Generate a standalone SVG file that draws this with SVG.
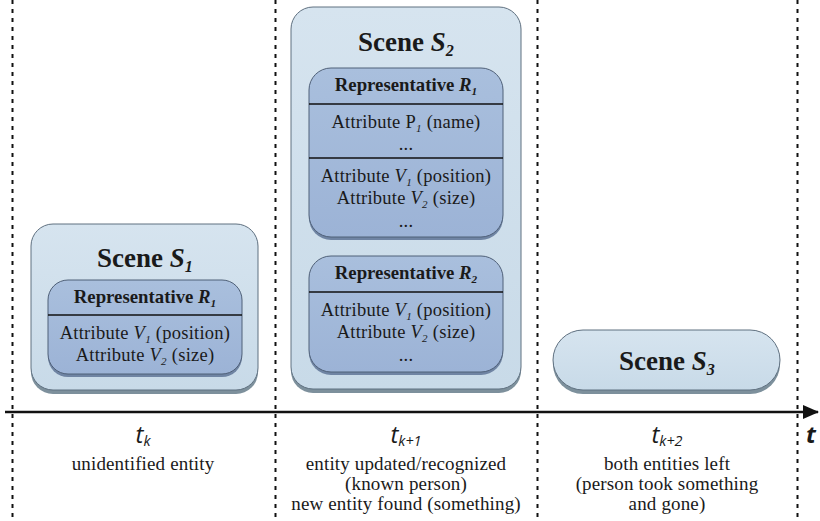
<svg xmlns="http://www.w3.org/2000/svg" width="820" height="521" viewBox="0 0 820 521">
<defs>
<linearGradient id="gScene" x1="0" y1="0" x2="0" y2="1">
<stop offset="0" stop-color="#d6e4ef"/>
<stop offset="1" stop-color="#c8dae8"/>
</linearGradient>
<linearGradient id="gRep" x1="0" y1="0" x2="0" y2="1">
<stop offset="0" stop-color="#a9bfdd"/>
<stop offset="1" stop-color="#9cb3d6"/>
</linearGradient>
<marker id="arr" markerWidth="16" markerHeight="14" refX="15" refY="7" orient="auto" markerUnits="userSpaceOnUse">
<path d="M0,0 L16,7 L0,14 Z" fill="#111"/>
</marker>
</defs>
<style>
.shadow{fill:#7d909c}
.scene{fill:url(#gScene);stroke:#5f7080;stroke-width:1}
.repsh{fill:#6f84a3}
.rep{fill:url(#gRep);stroke:#4f6078;stroke-width:1}
.sep{stroke:#111;stroke-width:1.3}
.dot{stroke:#111;stroke-width:2;stroke-dasharray:4,5}
.title{font-family:"Liberation Serif","DejaVu Serif",serif;font-weight:bold;font-size:27px;fill:#1a1a1a;text-anchor:middle}
.hd{font-family:"Liberation Serif","DejaVu Serif",serif;font-weight:bold;font-size:18.8px;fill:#1a1a1a;text-anchor:middle}
.tx{font-family:"Liberation Serif","DejaVu Serif",serif;font-size:18.5px;letter-spacing:0.25px;fill:#1a1a1a;text-anchor:middle}
.lb{font-family:"Liberation Serif","DejaVu Serif",serif;font-size:19px;letter-spacing:0.15px;fill:#1a1a1a;text-anchor:middle}
.tk{font-family:"Open Sans","DejaVu Sans",sans-serif;font-style:italic;font-size:24px;fill:#1a1a1a;text-anchor:middle}
.sub{font-size:60%}
</style>

<g id="connectors">
<line class="dot" x1="12.5" y1="0" x2="12.5" y2="521"/>
<line class="dot" x1="275.5" y1="0" x2="275.5" y2="521"/>
<line class="dot" x1="537.5" y1="0" x2="537.5" y2="521"/>
<line class="dot" x1="797.5" y1="0" x2="797.5" y2="521"/>
<line x1="5" y1="412" x2="818" y2="412" stroke="#111" stroke-width="2.5" marker-end="url(#arr)"/>
</g>

<g id="scene1">
<rect class="shadow" x="31" y="228" width="227" height="166" rx="22"/>
<rect class="scene" x="31" y="224" width="227" height="166" rx="22"/>
<text class="title" x="145" y="267">Scene <tspan font-style="italic">S</tspan><tspan class="sub" font-style="italic" dy="5">1</tspan></text>
<g id="s1r1">
<rect class="repsh" x="48" y="283" width="194" height="94" rx="20"/>
<rect class="rep" x="48" y="280" width="194" height="94" rx="20"/>
<text class="hd" x="145" y="303">Representative <tspan font-style="italic">R</tspan><tspan class="sub" font-style="italic" dy="4">1</tspan></text>
<line class="sep" x1="48" y1="315" x2="242" y2="315"/>
<text class="tx" x="145" y="339">Attribute <tspan font-style="italic">V</tspan><tspan class="sub" font-style="italic" dy="4">1</tspan><tspan dy="-4"> (position)</tspan></text>
<text class="tx" x="145" y="361">Attribute <tspan font-style="italic">V</tspan><tspan class="sub" font-style="italic" dy="4">2</tspan><tspan dy="-4"> (size)</tspan></text>
</g>
</g>

<g id="scene2">
<rect class="shadow" x="291" y="11" width="230" height="382" rx="22"/>
<rect class="scene" x="291" y="7" width="230" height="382" rx="22"/>
<text class="title" x="406" y="51">Scene <tspan font-style="italic">S</tspan><tspan class="sub" font-style="italic" dy="5">2</tspan></text>
<g id="s2r1">
<rect class="repsh" x="309" y="71" width="194" height="169" rx="22"/>
<rect class="rep" x="309" y="68" width="194" height="169" rx="22"/>
<text class="hd" x="406" y="91">Representative <tspan font-style="italic">R</tspan><tspan class="sub" font-style="italic" dy="4">1</tspan></text>
<line class="sep" x1="309" y1="104" x2="503" y2="104"/>
<text class="tx" x="406" y="128">Attribute P<tspan class="sub" font-style="italic" dy="4">1</tspan><tspan dy="-4"> (name)</tspan></text>
<text class="tx" x="406" y="150">...</text>
<line class="sep" x1="309" y1="158" x2="503" y2="158"/>
<text class="tx" x="406" y="182">Attribute <tspan font-style="italic">V</tspan><tspan class="sub" font-style="italic" dy="4">1</tspan><tspan dy="-4"> (position)</tspan></text>
<text class="tx" x="406" y="204">Attribute <tspan font-style="italic">V</tspan><tspan class="sub" font-style="italic" dy="4">2</tspan><tspan dy="-4"> (size)</tspan></text>
<text class="tx" x="406" y="227">...</text>
</g>
<g id="s2r2">
<rect class="repsh" x="309" y="259" width="194" height="116" rx="22"/>
<rect class="rep" x="309" y="256" width="194" height="116" rx="22"/>
<text class="hd" x="406" y="279">Representative <tspan font-style="italic">R</tspan><tspan class="sub" font-style="italic" dy="4">2</tspan></text>
<line class="sep" x1="309" y1="292" x2="503" y2="292"/>
<text class="tx" x="406" y="316">Attribute <tspan font-style="italic">V</tspan><tspan class="sub" font-style="italic" dy="4">1</tspan><tspan dy="-4"> (position)</tspan></text>
<text class="tx" x="406" y="338">Attribute <tspan font-style="italic">V</tspan><tspan class="sub" font-style="italic" dy="4">2</tspan><tspan dy="-4"> (size)</tspan></text>
<text class="tx" x="406" y="361">...</text>
</g>
</g>

<g id="scene3">
<rect class="shadow" x="553" y="334" width="227" height="60" rx="30"/>
<rect class="scene" x="553" y="330" width="227" height="60" rx="30"/>
<text class="title" x="667" y="370">Scene <tspan font-style="italic">S</tspan><tspan class="sub" font-style="italic" dy="5">3</tspan></text>
</g>

<g id="labels">
<text class="tk" x="143" y="443">t<tspan class="sub" dy="3">k</tspan></text>
<text class="lb" x="143" y="470">unidentified entity</text>
<text class="tk" x="406" y="443">t<tspan class="sub" dy="3">k+1</tspan></text>
<text class="lb" x="406" y="470">entity updated/recognized</text>
<text class="lb" x="406" y="490">(known person)</text>
<text class="lb" x="406" y="510">new entity found (something)</text>
<text class="tk" x="667" y="443">t<tspan class="sub" dy="3">k+2</tspan></text>
<text class="lb" x="667" y="470">both entities left</text>
<text class="lb" x="667" y="490">(person took something</text>
<text class="lb" x="667" y="510">and gone)</text>
<text class="tk" x="811" y="443" font-weight="bold">t</text>
</g>
</svg>
